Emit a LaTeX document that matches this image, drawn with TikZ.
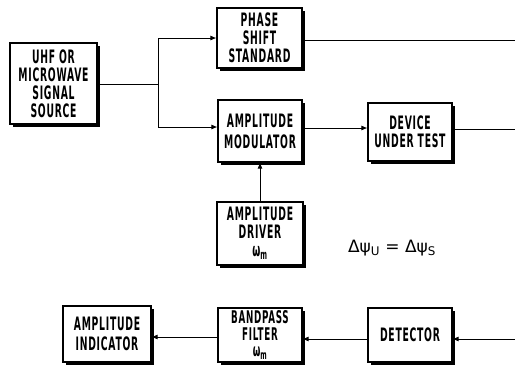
\documentclass[tikz,border=0pt]{standalone}
\usepackage{fontspec}
\newfontfamily\lbl{DejaVu Sans}[UprightFont=* Bold, FakeStretch=0.5, LetterSpace=4]
\newfontfamily\eqf{DejaVu Sans}
\usetikzlibrary{shadows,arrows.meta,calc}
\begin{document}
\begin{tikzpicture}[x=1pt,y=-1pt,
  blk/.style={draw, line width=1.2pt, fill=white, align=center,
    font=\lbl\fontsize{18.5}{18}\selectfont, inner sep=0pt,
    drop shadow={shadow xshift=2.5pt, shadow yshift=-2.5pt, fill=black, opacity=1}},
  conn/.style={line width=0.8pt},
  arr/.style={conn, -{Latex[length=6pt,width=5pt]}}]
\useasboundingbox (0,0) rectangle (515,368);

\node[blk, minimum width=87pt, minimum height=81pt] (src) at (53.5,83.5) {UHF OR\\MICROWAVE\\SIGNAL\\SOURCE};
\node[blk, minimum width=85pt, minimum height=60pt] (phase) at (259.5,38) {PHASE\\SHIFT\\STANDARD};
\node[blk, minimum width=84pt, minimum height=62pt] (mod) at (260,131) {AMPLITUDE\\[3pt]MODULATOR};
\node[blk, minimum width=84pt, minimum height=58pt] (dut) at (410,132) {DEVICE\\UNDER TEST};
\node[blk, minimum width=86pt, minimum height=63pt] (drv) at (260,233.5) {AMPLITUDE\\DRIVER\\ω\textsubscript{m}};
\node[blk, minimum width=84pt, minimum height=54pt, font=\lbl\fontsize{17.5}{16.5}\selectfont] (bpf) at (260,335) {BANDPASS\\FILTER\\ω\textsubscript{m}};
\node[blk, minimum width=88pt, minimum height=56pt] (ind) at (107,334) {AMPLITUDE\\[2pt]INDICATOR};
\node[blk, minimum width=84pt, minimum height=54pt] (det) at (410,335) {DETECTOR};

\node[font=\eqf\fontsize{17}{19}\selectfont] (eq) at (392,248) {Δψ\textsubscript{U} = Δψ\textsubscript{S}};

\coordinate (bj) at (158,84);
\coordinate (bt) at (158,38);
\coordinate (bb) at (158,127);
\coordinate (e1) at (515,40);
\coordinate (e2) at (515,129);
\coordinate (e3) at (515,339);

\draw[conn] (src.east |- bj) -- (bj);
\draw[conn] (bt) -- (bb);
\draw[arr] (bt) -- (bt -| phase.west);
\draw[arr] (bb) -- (bb -| mod.west);
\draw[conn] (phase.east |- e1) -- (e1);
\draw[arr] ($(mod.east)+(0,-3)$) -- ($(dut.west)+(0,-4)$);
\draw[conn] ($(dut.east)+(0,-3)$) -- (e2);
\draw[arr] (drv.north) -- (mod.south);
\draw[arr] (e3) -- (det.east |- e3);
\draw[arr] (det.west |- e3) -- (bpf.east |- e3);
\draw[arr] ($(bpf.west)+(0,2)$) -- ($(ind.east)+(0,3)$);
\end{tikzpicture}
\end{document}
